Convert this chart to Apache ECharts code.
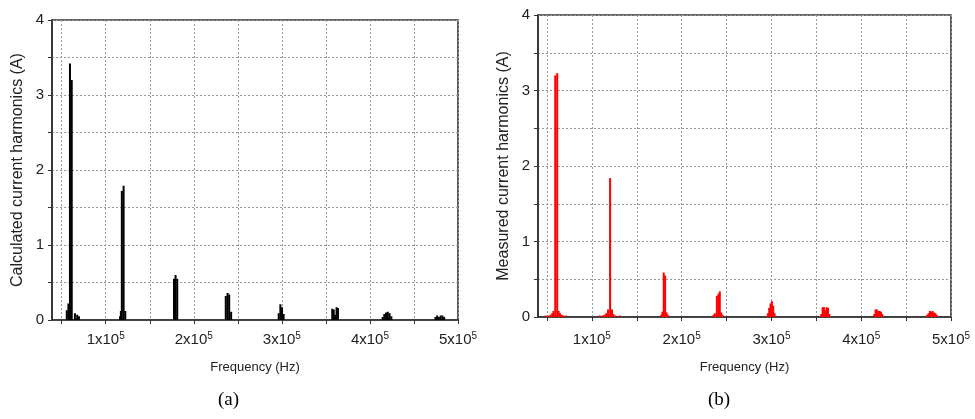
<!DOCTYPE html>
<html><head><meta charset="utf-8">
<script src="https://cdn.jsdelivr.net/npm/echarts@6/dist/echarts.min.js"></script>
<style>html,body{margin:0;padding:0;background:#fff}#c{width:975px;height:419px}</style>
</head><body><div id="c"></div>
<script>
// Frequencies in kHz; null separates harmonic clusters
const calcFreqKHz = [
  54.0,55.8,57.6,59.4,61.4,63.2,65.0,66.4,67.6,68.4,69.6,70.8,null,
  114.8,116.2,117.2,118.3,120.3,122.2,123.4,null,
  175.0,177.5,179.3,181.2,183.0,null,
  234.4,236.3,238.3,240.2,242.4,244.2,null,
  294.6,296.4,298.3,300.2,302.0,303.6,null,
  355.4,357.2,358.9,360.5,362.1,363.7,365.2,null,
  412.6,414.4,416.3,418.3,420.3,422.3,424.3,426.0,null,
  472.6,474.4,476.3,478.3,480.3,482.3,484.3,486.0
];
const calcAmp = [
  0,0.13,0.22,3.42,3.2,0,0.09,0,0.07,0,0.05,0,null,
  0,0.05,0.12,1.72,1.79,0.12,0,null,
  0,0.55,0.6,0.55,0,null,
  0,0.32,0.36,0.34,0.11,0,null,
  0,0.09,0.21,0.17,0.08,0,null,
  0,0.15,0.14,0.07,0.17,0.16,0,null,
  0,0.04,0.08,0.1,0.11,0.09,0.05,0,null,
  0,0.04,0.06,0.04,0.06,0.06,0.04,0
];
const measFreqKHz = [
  47.5,48.5,50,52,54,55.8,57.2,59.2,61.4,63.0,64.6,66.4,68,69.5,71.5,72.5,null,
  107,108.5,110,112,114,116,118,120.3,122.4,124,126,128,131,132.5,null,
  176,177.3,178.5,180,181.6,183.2,184.6,186,null,
  234,235.5,237,239.2,241,242.5,244,245.5,247,null,
  294.5,296,297.5,299,300.5,302,303.5,305,null,
  354,355.5,357,358.5,360,361.5,363,364.5,366,null,
  413,414.5,416,417.5,419,420.5,422,423.5,425,null,
  472,473.5,475,476.5,478,479.5,481,482.5,484,485.5
];
const measAmp = [
  0,0.02,0,0.02,0.03,0.05,0.08,3.2,3.23,0.08,0.05,0.03,0.02,0,0.02,0,null,
  0,0.02,0,0.02,0.03,0.05,0.1,1.84,0.1,0.04,0.02,0,0.02,0,null,
  0,0.03,0.07,0.59,0.55,0.06,0.03,0,null,
  0,0.03,0.05,0.28,0.31,0.34,0.06,0.03,0,null,
  0,0.05,0.12,0.18,0.21,0.15,0.05,0,null,
  0,0.04,0.13,0.13,0.09,0.13,0.12,0.04,0,null,
  0,0.04,0.1,0.1,0.08,0.08,0.07,0.04,0,null,
  0,0.03,0.05,0.08,0.07,0.08,0.06,0.05,0.03,0
];
const xTickValues = [50000,100000,150000,200000,250000,300000,350000,400000,450000,500000];
const xLabelValues = [100000,200000,300000,400000,500000];
const yTickLabels = [0,1,2,3,4];

function toData(fr, am) {
  return fr.map((f, i) => (f === null || am[i] === null) ? ['-', '-'] : [f * 1000, am[i]]);
}
const FONT = '"Liberation Sans", Arial, sans-serif';
const axisColor = '#333';
const gridLine = {show: true, lineStyle: {color: '#999', type: [2, 2], width: 1}};

function xAxisCfg(gi, min, margin, gap) {
  return {
    type: 'value', gridIndex: gi, min: min, max: 500000,
    axisLine: {show: true, onZero: false, lineStyle: {color: axisColor, width: 1.6}},
    axisTick: {show: true, customValues: xTickValues, length: 4, lineStyle: {color: axisColor, width: 1}},
    axisLabel: {
      customValues: xLabelValues, color: '#222', fontSize: 15, fontFamily: FONT, margin: margin,
      formatter: v => (v / 1e5) + 'x10{sup|5}',
      rich: {sup: {fontSize: 10, fontFamily: FONT, color: '#222', padding: [0, 0, 8, 0]}}
    },
    splitLine: gridLine,
    name: 'Frequency (Hz)', nameLocation: 'middle', nameGap: gap,
    nameTextStyle: {fontSize: 13, color: '#222', fontFamily: FONT}
  };
}
function yAxisCfg(gi, name) {
  return {
    type: 'value', gridIndex: gi, min: 0, max: 4, interval: 0.5,
    axisLine: {show: true, lineStyle: {color: axisColor, width: 1.6}},
    axisTick: {show: true, length: 4, lineStyle: {color: axisColor, width: 1}},
    axisLabel: {color: '#222', fontSize: 15, fontFamily: FONT, margin: 8,
      formatter: v => yTickLabels.indexOf(v) >= 0 ? String(v) : ''},
    splitLine: gridLine,
    name: name, nameLocation: 'middle', nameGap: 26,
    nameTextStyle: {fontSize: 16, color: '#222', fontFamily: FONT}
  };
}
function seriesCfg(gi, data, color) {
  return {
    type: 'bar', xAxisIndex: gi, yAxisIndex: gi, data: data, barWidth: 2,
    silent: true, itemStyle: {color: color}, z: 3
  };
}

const chart = echarts.init(document.getElementById('c'), null, {renderer: 'canvas'});
chart.setOption({
  animation: false,
  backgroundColor: '#fff',
  grid: [
    {left: 52, top: 20, width: 406, height: 300, show: true, borderColor: axisColor, borderWidth: 1.6, backgroundColor: 'transparent'},
    {left: 538, top: 15, width: 413, height: 302, show: true, borderColor: axisColor, borderWidth: 1.6, backgroundColor: 'transparent'}
  ],
  xAxis: [xAxisCfg(0, 39000, 11, 41), xAxisCfg(1, 40000, 14, 44)],
  yAxis: [yAxisCfg(0, 'Calculated current harmonics (A)'), yAxisCfg(1, 'Measured current harmonics (A)')],
  series: [
    seriesCfg(0, toData(calcFreqKHz, calcAmp), '#000000'),
    seriesCfg(1, toData(measFreqKHz, measAmp), '#ff0000')
  ],
  graphic: [
    {type: 'text', left: 218, top: 391, style: {text: '(a)', fill: '#000', fontSize: 19, fontFamily: '"Liberation Serif", "Times New Roman", serif'}},
    {type: 'text', left: 708, top: 391, style: {text: '(b)', fill: '#000', fontSize: 19, fontFamily: '"Liberation Serif", "Times New Roman", serif'}}
  ]
});
</script>
</body></html>
